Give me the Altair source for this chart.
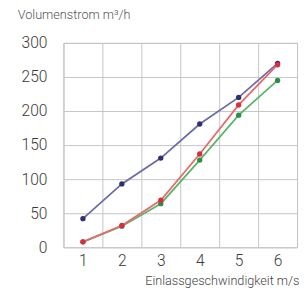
import altair as alt
import pandas as pd

speeds = [1, 2, 3, 4, 5, 6]
blue_vals = [42, 93, 131, 181, 220, 270]
green_vals = [8, 31, 64, 128, 194, 245]
red_vals = [8, 32, 69, 137, 209, 268]

series_names = ["blau", "grün", "rot"]
series_vals = [blue_vals, green_vals, red_vals]
line_colors = ["#6b6ca6", "#5cb46c", "#e8696c"]
point_colors = ["#2f306e", "#2a8f45", "#d92c3c"]

rows = []
for name, vals in zip(series_names, series_vals):
    for s, v in zip(speeds, vals):
        rows.append({"speed": s, "value": v, "series": name})
df = pd.DataFrame(rows)

FONT = "Roboto"

x_enc = alt.X(
    "speed:O",
    scale=alt.Scale(paddingInner=0, paddingOuter=0),
    axis=alt.Axis(
        title="Einlassgeschwindigkeit m/s",
        labelAngle=0,
        tickBand="extent",
        grid=True,
        gridColor="#c4c4c4",
        gridWidth=1,
        domain=False,
        ticks=False,
        labelFont=FONT,
        labelFontSize=16,
        labelFontWeight=300,
        labelColor="#3a3a3a",
        labelPadding=6,
        titleFont=FONT,
        titleFontSize=13,
        titleFontWeight=300,
        titleColor="#444444",
        titleAnchor="end",
        titleAlign="right",
        titleX=242,
        titleY=38,
        titleBaseline="alphabetic",
    ),
)
y_enc = alt.Y(
    "value:Q",
    scale=alt.Scale(domain=[0, 300], nice=False),
    axis=alt.Axis(
        title=None,
        values=[0, 50, 100, 150, 200, 250, 300],
        grid=True,
        gridColor="#c4c4c4",
        gridWidth=1,
        domain=False,
        ticks=False,
        labelFont=FONT,
        labelFontSize=16,
        labelFontWeight=300,
        labelColor="#3a3a3a",
        labelPadding=17,
    ),
)

layers = []
for name, lc, pc in zip(series_names, line_colors, point_colors):
    sub = df[df["series"] == name]
    base = alt.Chart(sub)
    layers.append(base.mark_line(color=lc, strokeWidth=1.8).encode(x=x_enc, y=y_enc))
    layers.append(base.mark_circle(color=pc, size=30, opacity=1).encode(x=x_enc, y=y_enc))

chart = alt.layer(*layers).properties(
    width=240,
    height=210,
    autosize=alt.AutoSizeParams(type="none"),
    padding={"left": 57, "top": 32, "right": 2, "bottom": 40},
    title=alt.TitleParams(
        text="Volumenstrom m³/h",
        anchor="start",
        frame="group",
        dx=-47,
        offset=14,
        font=FONT,
        fontSize=13,
        fontWeight=300,
        color="#555555",
    ),
).configure_view(stroke="#c4c4c4")

chart.save("out.html", embed_options={"renderer": "svg", "actions": False})
